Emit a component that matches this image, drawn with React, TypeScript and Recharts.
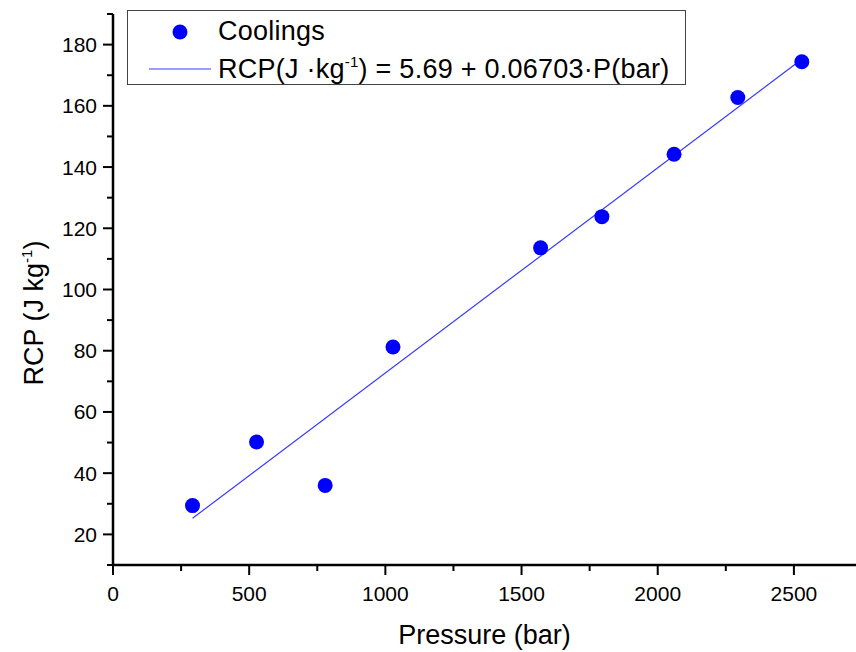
import React from "react";
import {
  ComposedChart,
  Scatter,
  Line,
  XAxis,
  YAxis,
  Legend,
} from "recharts";

// measured cooling (RCP) vs applied pressure
const pressure = [292, 527, 779, 1028, 1570, 1795, 2060, 2294, 2529];
const coolings = [29.4, 50.2, 36.0, 81.2, 113.6, 123.8, 144.2, 162.7, 174.4];

// linear fit shown in the legend
const fitIntercept = 5.69;
const fitSlope = 0.06703;
const fitRange = [292, 2529];

const xTicks = [0, 250, 500, 750, 1000, 1250, 1500, 1750, 2000, 2250, 2500];
const yTicks = [10, 20, 30, 40, 50, 60, 70, 80, 90, 100, 110, 120, 130, 140, 150, 160, 170, 180, 190];

const points = pressure.map((p, i) => ({ p, rcp: coolings[i] }));
const fitData = fitRange.map((p) => ({ p, rcp: fitIntercept + fitSlope * p }));

const FONT = '"Liberation Sans", Arial, sans-serif';
const BLUE = "#0000ff";
const FIT_BLUE = "#3838ff";

const XTick = (props: any) => {
  const { x, y, payload } = props;
  const major = payload.value % 500 === 0;
  return (
    <g>
      <line x1={x} y1={y} x2={x} y2={y + (major ? 10 : 6)} stroke="#000" strokeWidth={2} />
      {major && (
        <text x={x} y={y + 36} textAnchor="middle" fontSize={21} fontFamily={FONT} fill="#000">
          {payload.value}
        </text>
      )}
    </g>
  );
};

const YTick = (props: any) => {
  const { x, y, payload } = props;
  const major = payload.value % 20 === 0;
  return (
    <g>
      <line x1={x} y1={y} x2={x - (major ? 10 : 6)} y2={y} stroke="#000" strokeWidth={2} />
      {major && (
        <text x={x - 16} y={y + 7.5} textAnchor="end" fontSize={21} fontFamily={FONT} fill="#000">
          {payload.value}
        </text>
      )}
    </g>
  );
};

const LegendBox = () => (
  <svg width={560} height={76} style={{ display: "block" }}>
    <rect x={0.5} y={0.5} width={558} height={74} fill="#fff" stroke="#444" strokeWidth={1} />
    <circle cx={53} cy={22} r={7.5} fill={BLUE} />
    <text x={91} y={30} fontSize={27} fontFamily={FONT} fill="#000" letterSpacing={0.25}>
      Coolings
    </text>
    <line x1={22} y1={59} x2={84} y2={59} stroke={FIT_BLUE} strokeWidth={1.2} />
    <text x={91} y={67.5} fontSize={27} fontFamily={FONT} fill="#000" letterSpacing={0.25}>
      RCP(J ·kg
      <tspan dy={-11} fontSize={15}>-1</tspan>
      <tspan dy={11}>) = 5.69 + 0.06703·P(bar)</tspan>
    </text>
  </svg>
);

export default function App() {
  return (
    <div style={{ position: "absolute", left: 0, top: 0, background: "#fff" }}>
      <ComposedChart
        width={856}
        height={652}
        margin={{ top: 14, right: 0, bottom: 0, left: 0 }}
      >
        <XAxis
          dataKey="p"
          type="number"
          domain={[0, 2728]}
          ticks={xTicks}
          interval={0}
          height={87}
          tickSize={0}
          tickMargin={0}
          tickLine={false}
          tick={<XTick />}
          axisLine={{ stroke: "#000", strokeWidth: 2.5 }}
          label={{
            value: "Pressure (bar)",
            position: "insideBottom",
            offset: 8,
            fontSize: 27,
            fontFamily: FONT,
            fill: "#000",
          }}
        />
        <YAxis
          dataKey="rcp"
          type="number"
          domain={[10, 190]}
          ticks={yTicks}
          interval={0}
          width={113}
          tickSize={0}
          tickMargin={0}
          tickLine={false}
          tick={<YTick />}
          axisLine={{ stroke: "#000", strokeWidth: 2.5 }}
          label={() => (
            <text
              x={43}
              y={313}
              transform="rotate(-90 43 313)"
              textAnchor="middle"
              fontSize={27}
              fontFamily={FONT}
              fill="#000"
            >
              RCP (J kg
              <tspan dy={-11} fontSize={15}>-1</tspan>
              <tspan dy={11}>)</tspan>
            </text>
          )}
        />
        <Legend
          layout="vertical"
          align="center"
          verticalAlign="middle"
          wrapperStyle={{ position: "absolute", left: 127, top: 10, width: 560, height: 76 }}
          content={() => <LegendBox />}
        />
        <Line
          data={fitData}
          dataKey="rcp"
          type="linear"
          stroke={FIT_BLUE}
          strokeWidth={1.2}
          dot={false}
          activeDot={false}
          legendType="line"
          isAnimationActive={false}
        />
        <Scatter
          data={points}
          dataKey="rcp"
          fill={BLUE}
          shape={(p: any) => <circle cx={p.cx} cy={p.cy} r={7.5} fill={BLUE} />}
          isAnimationActive={false}
        />
      </ComposedChart>
    </div>
  );
}
